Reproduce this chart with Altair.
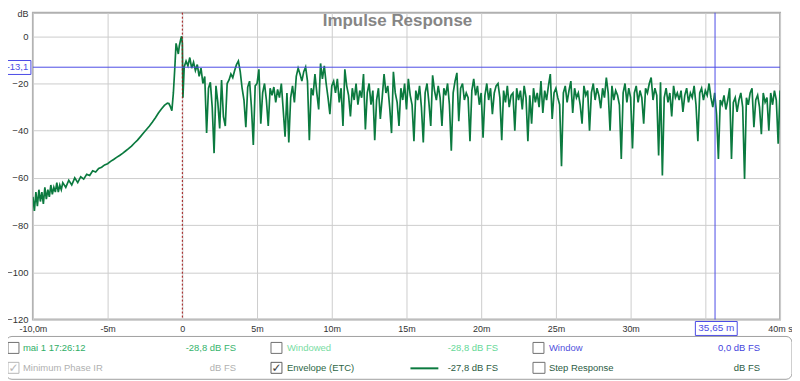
import altair as alt
import pandas as pd

FONT = "Liberation Sans"
GREEN = "#0b7a3f"
BLUE = "#4b4be6"

# ---- data ----
pre_t = [-10.0, -9.9, -9.8, -9.7, -9.6, -9.5, -9.4, -9.3, -9.2, -9.1, -9.0, -8.9, -8.8, -8.7, -8.6,
         -8.5, -8.4, -8.3, -8.2, -8.1, -8.0, -7.8, -7.6, -7.4, -7.2, -7.0, -6.8, -6.6, -6.4, -6.2,
         -6.0, -5.8, -5.6, -5.4, -5.2, -5.0, -4.8, -4.6, -4.4, -4.2, -4.0, -3.8, -3.6, -3.4, -3.2,
         -3.0, -2.8, -2.6, -2.4, -2.2, -2.0, -1.8, -1.6, -1.4, -1.2, -1.0, -0.9, -0.8, -0.7, -0.6,
         -0.5, -0.42, -0.35, -0.27, -0.2, -0.1, -0.05, 0.0, 0.04]
pre_db = [-68, -74, -66, -72, -65, -70, -66, -71, -64, -69, -65, -68, -63, -67, -64,
          -66, -62, -66, -63, -65, -62, -64, -61, -63, -60, -62, -59.5, -60.5, -58.5, -59,
          -57, -57.5, -56, -55.5, -54.5, -54, -53, -52.2, -51.3, -50.5, -49.6, -48.6, -47.6, -46.5, -45.2,
          -44, -42.5, -41, -39.5, -38, -36.3, -34.5, -32.5, -30.8, -29.3, -28.3, -28.5, -29.8, -31.5, -24,
          -13, -3, -5, -7.5, -4, -1, 0, -3, -26]

post_db = [
    -13, -10.5, -12.5, -9, -13.5, -11, -14.5, -12,
    -17, -13.5, -20, -17, -41, -22, -19.5, -30,
    -49.5, -21, -28, -39, -18.5, -34, -38, -20,
    -18.5, -16, -17.5, -14.5, -12, -10.5, -15, -22,
    -27, -38.5, -21.5, -19, -30, -46, -21, -20,
    -14, -37, -24, -20, -27, -38, -22, -25,
    -21.5, -28, -22.5, -26, -20, -31, -42.5, -24,
    -45, -26, -21, -28, -17, -13.5, -16, -19,
    -15, -13, -19, -44, -22, -25, -16, -24,
    -31, -11.5, -18, -12.5, -20, -26, -33, -21,
    -19, -24, -18, -28, -22, -38, -14, -21,
    -25, -34, -22, -27, -20, -29, -23, -26,
    -16, -39.5, -24, -20, -29, -23, -44, -27,
    -22, -35, -26, -16, -24, -21, -30, -41,
    -15, -24, -28, -38, -22, -27, -20, -31,
    -18, -25, -29, -44.5, -23, -27, -21, -30,
    -45, -24, -20, -28, -38, -16.5, -23, -27,
    -21, -26, -38, -22, -25, -20, -29, -48.5,
    -24, -19, -15.5, -36, -22, -20, -27, -24,
    -26, -44.5, -23, -18, -25, -21, -29, -24,
    -43, -25, -20, -27, -22, -33, -24, -21,
    -20, -26, -44, -23, -28, -21, -30, -25,
    -24, -40, -22, -27, -23, -31, -21, -26,
    -44.5, -25, -37, -22, -28, -24, -30, -19,
    -32.5, -23, -27, -21, -16, -35, -24, -22,
    -26, -29, -55, -24, -21, -28, -23, -19,
    -32.5, -22, -26, -24, -29, -37, -21, -25,
    -23, -40, -24, -20, -27, -22, -25, -30.5,
    -22, -26, -17.5, -24, -40, -21, -27, -23,
    -25, -29, -52, -24, -20, -28, -22, -26,
    -47.5, -24, -21, -28, -23, -26, -37, -22,
    -24, -20, -17.5, -27, -22, -25, -50.5, -19.5,
    -59, -26, -22, -28, -24, -34, -21, -26,
    -24, -27, -23, -32, -25, -22, -28, -24,
    -26, -21, -29, -44.5, -24, -22, -27, -23,
    -25, -20, -26, -30, -24, -33, -52, -27,
    -29, -25, -31, -27, -22, -52, -28, -26,
    -32, -27, -24, -30, -60.5, -26, -29, -24,
    -22, -38.5, -27, -25, -30, -41.5, -24, -28,
    -26, -40, -24, -29, -23, -27, -45.5, -23,
]
post_step = 0.125
post_t = [round(post_step * (i + 1), 4) for i in range(len(post_db))]

x_ticks = [-10, -5, 0, 5, 10, 15, 20, 25, 30, 35, 40]
y_ticks = [0, -20, -40, -60, -80, -100, -120]
x_domain = [-10, 40]
y_domain = [-120, 10]

cursor_db = -13.1
cursor_ms = 35.65
cursor_db_label = "-13,1"
cursor_ms_label = "35,65 m"
title_text = "Impulse Response"
y_unit = "dB"

row1 = ["mai 1 17:26:12", "-28,8 dB FS", "Windowed", "-28,8 dB FS", "Window", "0,0 dB FS"]
row2 = ["Minimum Phase IR", "dB FS", "Envelope (ETC)", "-27,8 dB FS", "Step Response", "dB FS"]

df = pd.DataFrame({"t": pre_t + post_t, "db": pre_db + post_db})

W, H = 750, 308
xs = alt.Scale(domain=x_domain, nice=False, zero=False)
ys = alt.Scale(domain=y_domain, nice=False, zero=False)

x_axis = alt.Axis(values=x_ticks, title=None, grid=True, gridColor="#cdcdcd", domain=False, ticks=False,
                  labelFont=FONT, labelFontSize=9, labelColor="#333333", labelPadding=5,
                  labelFlush=False, labelOverlap=False,
                  labelExpr="datum.value == -10 ? '-10,0m' : datum.value == 0 ? '0' : datum.value == 40 ? '40m s' : datum.value == 35 ? '' : datum.value + 'm'")
y_axis = alt.Axis(values=y_ticks, title=None, grid=True, gridColor="#cdcdcd", domain=False, ticks=False,
                  labelFont=FONT, labelFontSize=9.5, labelColor="#333333", labelPadding=5,
                  labelFlush=False, labelOverlap=False)

line = alt.Chart(df).mark_line(color=GREEN, strokeWidth=1.7, clip=True).encode(
    x=alt.X("t:Q", scale=xs, axis=x_axis),
    y=alt.Y("db:Q", scale=ys, axis=y_axis),
    order="t:Q",
)

zero_rule = alt.Chart(pd.DataFrame({"t": [0]})).mark_rule(color="#a01010", strokeDash=[2, 2], strokeWidth=1).encode(
    x=alt.X("t:Q", scale=xs))
h_cursor = alt.Chart(pd.DataFrame({"db": [cursor_db]})).mark_rule(color=BLUE, strokeWidth=1).encode(
    y=alt.Y("db:Q", scale=ys))
v_cursor = alt.Chart(pd.DataFrame({"t": [cursor_ms]})).mark_rule(color=BLUE, strokeWidth=1).encode(
    x=alt.X("t:Q", scale=xs))

dummy = pd.DataFrame({"k": [0]})


def txt(s, x, y, color, align="left", size=9.5, weight="normal", font=FONT):
    return alt.Chart(dummy).mark_text(text=s, align=align, baseline="middle", fontSize=size, font=font,
                                      color=color, fontWeight=weight).encode(x=alt.value(x), y=alt.value(y))


def box(x1, x2, y1, y2, stroke, fill="white", sw=1, r=0):
    return alt.Chart(dummy).mark_rect(fill=fill, stroke=stroke, strokeWidth=sw, cornerRadius=r).encode(
        x=alt.value(x1), x2=alt.value(x2), y=alt.value(y1), y2=alt.value(y2))


layers = [line, zero_rule, h_cursor, v_cursor]
layers.append(txt(title_text, 366, 8, "#858585", align="center", size=17, weight="bold"))
layers.append(txt(y_unit, -10, 1, "#333333", align="center", size=9))
# cursor labels
layers.append(box(-29, -2, 48, 62, BLUE))
layers.append(txt(cursor_db_label, -15.5, 55, BLUE, align="center", size=9.5))
layers.append(box(665, 707, 310, 324, BLUE))
layers.append(txt(cursor_ms_label, 686, 317, BLUE, align="center", size=10))

# legend panel
layers.append(box(-27, 762, 325, 368, "#a0a0a0", r=6))
r1y, r2y = 337, 357
cb_cols = [-25, 239, 502]
for cx in cb_cols:
    layers.append(box(cx, cx + 11, r1y - 6, r1y + 5, "#707070"))
layers.append(box(-25, -14, r2y - 6, r2y + 5, "#b8b8b8"))
layers.append(box(239, 250, r2y - 6, r2y + 5, "#606060"))
layers.append(box(502, 514, r2y - 6, r2y + 5, "#707070"))
layers.append(txt("\u2713", -19.5, r2y, "#b8b8b8", align="center", size=12, font="DejaVu Sans"))
layers.append(txt("\u2713", 244.5, r2y, "#404040", align="center", size=12, font="DejaVu Sans"))

layers.append(txt(row1[0], -10, r1y, "#2fae66"))
layers.append(txt(row1[1], 204, r1y, "#36b36c", align="right"))
layers.append(txt(row1[2], 255, r1y, "#78dca2"))
layers.append(txt(row1[3], 467, r1y, "#66d898", align="right"))
layers.append(txt(row1[4], 518, r1y, "#5050dd"))
layers.append(txt(row1[5], 730, r1y, "#4444dd", align="right"))

layers.append(txt(row2[0], -10, r2y, "#b0b0b0"))
layers.append(txt(row2[1], 204, r2y, "#b0b0b0", align="right"))
layers.append(txt(row2[2], 255, r2y, "#2c6644"))
layers.append(alt.Chart(dummy).mark_rule(color=GREEN, strokeWidth=2).encode(
    x=alt.value(379), x2=alt.value(407), y=alt.value(r2y)))
layers.append(txt(row2[3], 467, r2y, "#2c5c44", align="right"))
layers.append(txt(row2[4], 518, r2y, "#2c5c44"))
layers.append(txt(row2[5], 730, r2y, "#2c5c44", align="right"))

chart = alt.layer(*layers).properties(
    width=W, height=H, autosize="none",
    padding={"left": 25, "top": 4, "right": 12, "bottom": 61},
    background="white",
).configure_view(stroke="#b0b0b0", strokeWidth=2)

chart.save("out.html", embed_options={"renderer": "svg", "actions": False})
